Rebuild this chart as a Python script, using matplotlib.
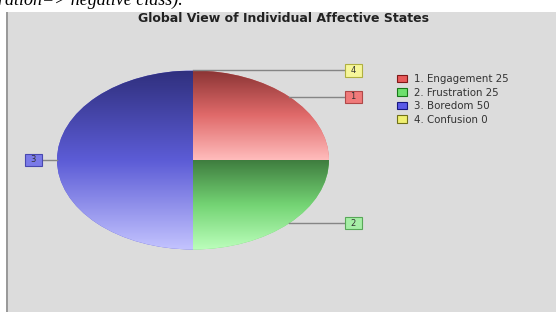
import numpy as np
import matplotlib
matplotlib.use("Agg")
import matplotlib.pyplot as plt
from matplotlib.colors import LinearSegmentedColormap
from matplotlib.patches import Rectangle, Patch

# datos
estados = ["Engagement", "Frustration", "Boredom", "Confusion"]
valores = [25, 25, 50, 0]
etiquetas = ["1", "2", "3", "4"]

# colores (oscuro arriba, medio, claro abajo)
grad_colores = [
    ["#8a3434", "#e06a6a", "#ffbcbc"],
    ["#3f7d3f", "#74d474", "#bcffbc"],
    ["#30307e", "#5c5cd6", "#c4c4ff"],
    ["#a0a030", "#f0f070", "#ffffc0"],
]
caja_colores = ["#f07a7a", "#a6eea6", "#7a7ae8", "#f6f69a"]
caja_bordes = ["#b04848", "#58a858", "#4848b0", "#b0b040"]
ley_colores = ["#e85a5a", "#6ee06e", "#5a5ae8", "#f0f070"]
ley_bordes = ["#801818", "#187818", "#181880", "#707018"]

W, H = 556, 312
fig = plt.figure(figsize=(W / 100, H / 100), dpi=100)

# panel gris de fondo
fig.patches.append(Rectangle((6 / W, 0), 1, (H - 12) / H, transform=fig.transFigure,
                             facecolor="#dcdcdc", edgecolor="none", zorder=-2))
fig.patches.append(Rectangle((6 / W, 0), 1.5 / W, (H - 12) / H, transform=fig.transFigure,
                             facecolor="#9a9a9a", edgecolor="none", zorder=-1))

# texto cortado arriba
fig.text(-2 / W, 1 - 5 / H, "ration=> negative class).", fontsize=13, style="italic",
         family="Liberation Serif", ha="left", va="baseline", color="black")

fig.text(283 / W, 1 - 19 / H, "Global View of Individual Affective States",
         fontsize=9, fontweight="bold", family="DejaVu Sans", color="#222222",
         ha="center", va="center")

# ejes en pixeles: centro (193,160), rx=136, ry=89.5
cx, cy, rx, ry = 193, 160, 136, 89.5
ax = fig.add_axes([0, 0, 1, 1])
ax.set_axis_off()

wedges, _ = ax.pie(valores, startangle=90, counterclock=False, frame=True,
                   wedgeprops=dict(linewidth=0))
ax.set_autoscale_on(False)
xlim = (-cx / rx, (W - cx) / rx)
ylim = (-(H - cy) / ry, cy / ry)

for w, cols in zip(wedges, grad_colores):
    w.set_facecolor(cols[1])
    if abs(w.theta2 - w.theta1) < 1e-6:
        continue
    ext = w.get_path().get_extents()
    cmap = LinearSegmentedColormap.from_list("g", cols[::-1])
    grad = np.linspace(0, 1, 256).reshape(-1, 1)
    im = ax.imshow(grad, extent=[ext.x0, ext.x1, ext.y0, ext.y1], origin="lower",
                   cmap=cmap, aspect="auto", zorder=2, interpolation="bilinear")
    im.set_clip_path(w)

# etiquetas con cajas
bw, bh = 8.5 / rx, 6 / ry
for w, lab, fc, ec in zip(wedges, etiquetas, caja_colores, caja_bordes):
    ang = np.deg2rad((w.theta1 + w.theta2) / 2)
    px, py = np.cos(ang), np.sin(ang)
    lado = 1 if px >= -1e-9 else -1
    tx = lado * 160 / rx
    borde = tx - lado * bw
    ax.plot([px, borde], [py, py], color="#858585", lw=1, zorder=3)
    ax.add_patch(Rectangle((tx - bw, py - bh), 2 * bw, 2 * bh, facecolor=fc,
                           edgecolor=ec, lw=0.8, zorder=4))
    ax.text(tx, py, lab, fontsize=6, ha="center", va="center", color="#333333",
            family="DejaVu Sans", zorder=5)

ax.set_xlim(xlim)
ax.set_ylim(ylim)

# leyenda
handles = [Patch(facecolor=c, edgecolor=e, lw=0.8) for c, e in zip(ley_colores, ley_bordes)]
nombres = [f"{i + 1}. {n} {v}" for i, (n, v) in enumerate(zip(estados, valores))]
fig.legend(handles, nombres, loc="upper left", bbox_to_anchor=(392 / W, 1 - 69 / H),
           frameon=False, prop=dict(family="DejaVu Sans", size=7.4),
           handlelength=1.0, handleheight=0.7, handletextpad=0.6, labelspacing=0.34,
           borderpad=0, labelcolor="#333333")

fig.savefig("out.png", dpi=100)
